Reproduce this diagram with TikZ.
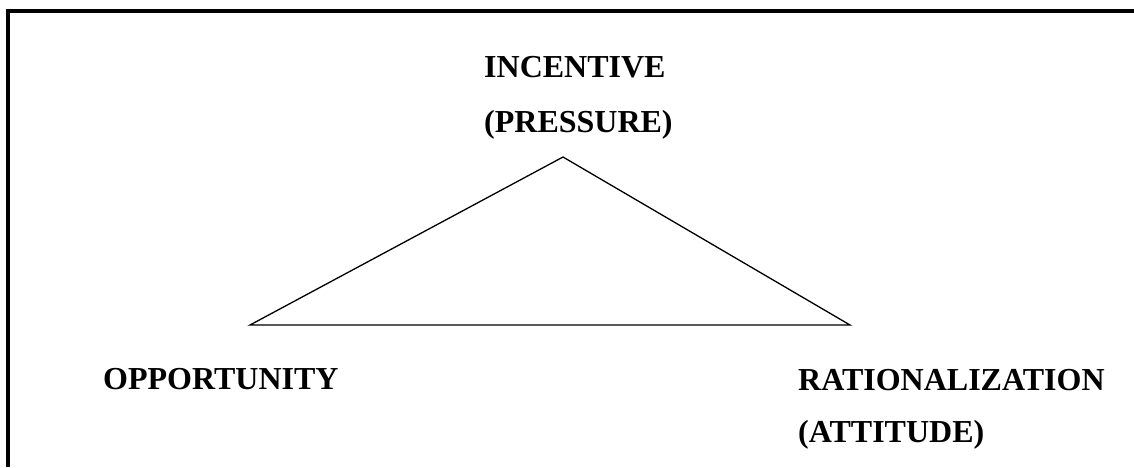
\documentclass[tikz,border=0pt]{standalone}
\usepackage{fontspec}
\setmainfont{Liberation Serif}
\begin{document}
\begin{tikzpicture}[x=1pt,y=-1pt,
  lbl/.style={anchor=base west,inner sep=0pt,font=\fontsize{32}{38}\selectfont\bfseries},
  frame/.style={line width=4pt},
  tri/.style={line width=1.3pt,line join=miter}]
\useasboundingbox (0,0) rectangle (1134,467);
\draw[frame] (8,467) -- (8,11) -- (1134,11);
\coordinate (apex) at (563,157);
\coordinate (lc) at (250,325);
\coordinate (rc) at (850,325);
\draw[tri] (apex) -- (lc) -- (rc) -- cycle;
\node[lbl] (inc) at (484,77) {INCENTIVE};
\node[lbl] (pre) at (484,132) {(PRESSURE)};
\node[lbl] (opp) at (103,389) {OPPORTUNITY};
\node[lbl] (rat) at (798,390) {RATIONALIZATION};
\node[lbl] (att) at (798,442) {(ATTITUDE)};
\end{tikzpicture}
\end{document}
